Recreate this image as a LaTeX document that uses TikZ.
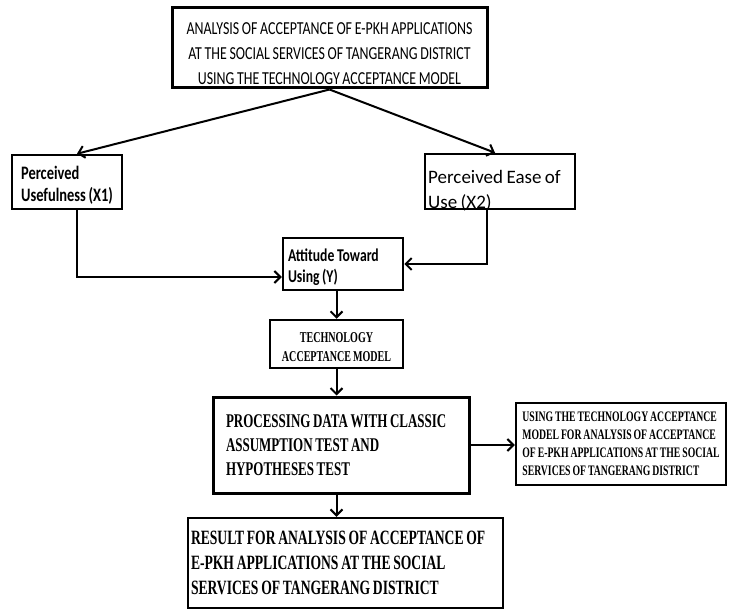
\documentclass[tikz,border=0pt]{standalone}
\usepackage{fontspec}
\usetikzlibrary{arrows.meta,calc}
\newfontfamily\hsans[FakeStretch=0.76,WordSpace=0.85]{Carlito}
\newfontfamily\plainsans[WordSpace=0.8]{Carlito}
\newfontfamily\hserif[FakeStretch=0.67,WordSpace=0.8]{Liberation Serif}
\hyphenpenalty=10000 \exhyphenpenalty=10000
\newcommand\lift[1]{\rule{0pt}{#1}}
\begin{document}
\begin{tikzpicture}[x=1pt,y=-1pt,
  box/.style={draw, line width=2.5pt, inner sep=0pt},
  thickbox/.style={draw, line width=3pt, inner sep=0pt},
  arr/.style={line width=2pt, -{Straight Barb[length=6pt,width=12pt,line width=2pt]}}]
\useasboundingbox (0,0) rectangle (729,610);
% boxes
\node[thickbox, minimum width=315pt, minimum height=80pt, align=center,
  font=\hsans\fontsize{18.3}{25}\selectfont] (top) at (329.5,48)
  {\lift{23pt}ANALYSIS OF ACCEPTANCE OF E-PKH APPLICATIONS\\AT THE SOCIAL SERVICES OF TANGERANG DISTRICT\\USING THE TECHNOLOGY ACCEPTANCE MODEL};
\node[box, minimum width=110pt, minimum height=54pt, align=left,
  font=\hsans\bfseries\fontsize{19}{22}\selectfont] (pu) at (67,182)
  {\lift{19pt}Perceived\\Usefulness (X1)};
\node[box, minimum width=150pt, minimum height=55pt] (peou) at (500,181.5) {};
\node[anchor=base west, inner sep=0pt, align=left, font=\plainsans\fontsize{19}{25}\selectfont]
  (peoutext) at (428,208) {Perceived Ease of\\Use (X2)};
\node[box, minimum width=120pt, minimum height=52pt, text width=110pt, align=flush left,
  font=\hsans\bfseries\fontsize{18}{21}\selectfont] (att) at (343,264)
  {\lift{20pt}Attitude Toward\\Using (Y)};
\node[box, minimum width=133pt, minimum height=48pt, align=center,
  font=\hserif\bfseries\fontsize{15}{19}\selectfont] (tam) at (336.5,344)
  {\lift{16pt}TECHNOLOGY\\ACCEPTANCE MODEL};
\node[thickbox, minimum width=256pt, minimum height=96pt, text width=230pt, align=flush left,
  font=\hserif\bfseries\fontsize{19.4}{24}\selectfont] (proc) at (341,445)
  {PROCESSING DATA WITH CLASSIC\\ASSUMPTION TEST AND\\HYPOTHESES TEST};
\node[box, minimum width=210pt, minimum height=82pt, align=left,
  font=\hserif\bfseries\fontsize{14.5}{18}\selectfont] (rb) at (621,444)
  {USING THE TECHNOLOGY ACCEPTANCE\\MODEL FOR ANALYSIS OF ACCEPTANCE\\OF E-PKH APPLICATIONS AT THE SOCIAL\\SERVICES OF TANGERANG DISTRICT};
\node[box, minimum width=315pt, minimum height=90pt, text width=309pt, align=flush left,
  font=\hserif\bfseries\fontsize{20.3}{25}\selectfont] (res) at (345.5,563)
  {RESULT FOR ANALYSIS OF ACCEPTANCE OF\\E-PKH APPLICATIONS AT THE SOCIAL\\SERVICES OF TANGERANG DISTRICT};
% connectors
\draw[arr] (top.south) -- ([xshift=10pt]pu.north);
\draw[arr] (top.south) -- ([xshift=-5pt]peou.north);
\draw[arr] ([xshift=10pt]pu.south) |- ([yshift=-13pt]att.west);
\draw[arr] ([xshift=-13pt]peou.south) |- (att.east);
\draw[arr] (att.south -| tam.north) -- (tam.north);
\draw[arr] (tam.south) -- (tam.south |- proc.north);
\draw[arr] (proc.south -| tam.south) -- (res.north -| tam.south);
\draw[arr] (proc.east) -- (proc.east -| rb.west);
\end{tikzpicture}
\end{document}
